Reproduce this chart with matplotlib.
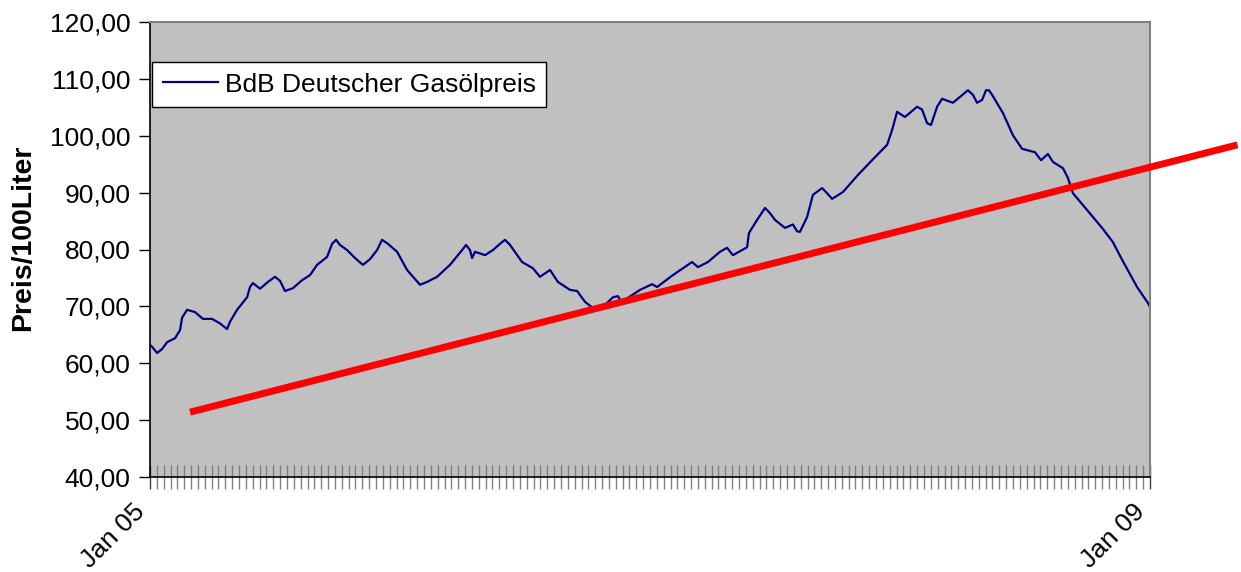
import matplotlib.pyplot as plt
import matplotlib.transforms as mtransforms
import numpy as np
from matplotlib.ticker import FuncFormatter

# months since Jan 05
months = [0.00, 0.10, 0.34, 0.58, 0.82, 1.20, 1.44, 1.54, 1.78, 2.16, 2.54, 2.98,
          3.36, 3.70, 3.84, 4.18, 4.66, 4.80, 4.94, 5.28, 5.66, 6.00, 6.24, 6.48,
          6.86, 7.30, 7.68, 8.02, 8.50, 8.74, 8.93, 9.12, 9.46, 9.84, 10.22, 10.56,
          10.90, 11.14, 11.42, 11.86, 12.34, 12.96, 13.30, 13.78, 14.40, 14.98, 15.17,
          15.36, 15.46, 15.60, 16.08, 16.46, 16.80, 17.04, 17.28, 17.86, 18.38, 18.72,
          19.20, 19.58, 20.16, 20.50, 20.88, 21.26, 21.74, 22.22, 22.46, 22.61, 22.94,
          23.52, 24.10, 24.34, 25.10, 26.02, 26.30, 26.78, 27.36, 27.70, 27.98, 28.66,
          28.75, 29.14, 29.52, 29.76, 30.00, 30.48, 30.86, 31.06, 31.20, 31.54, 31.82,
          32.26, 32.50, 32.74, 33.26, 33.98, 34.66, 35.38, 35.62, 35.86, 36.24, 36.82,
          37.06, 37.30, 37.49, 37.78, 38.02, 38.54, 39.26, 39.50, 39.70, 39.94, 40.13,
          40.27, 40.42, 40.94, 41.42, 41.86, 42.48, 42.77, 43.10, 43.34, 43.82, 44.06,
          44.30, 45.26, 45.70, 46.22, 46.66, 47.38, 47.90, 48.00]
preis = [63.2, 62.9, 61.8, 62.5, 63.7, 64.4, 65.8, 68.0, 69.4, 69.0, 67.8, 67.8,
         67.0, 66.0, 67.3, 69.4, 71.6, 73.4, 74.1, 73.1, 74.3, 75.2, 74.5, 72.7,
         73.2, 74.6, 75.5, 77.3, 78.7, 81.0, 81.7, 80.8, 79.9, 78.5, 77.3, 78.3,
         79.9, 81.7, 81.0, 79.6, 76.4, 73.8, 74.3, 75.2, 77.3, 79.9, 80.8,
         79.9, 78.5, 79.6, 79.0, 79.9, 81.0, 81.7, 80.8, 77.8, 76.7, 75.2,
         76.4, 74.3, 72.9, 72.7, 70.8, 69.7, 69.9, 71.6, 71.8, 70.9, 71.5,
         72.9, 73.9, 73.4, 75.5, 77.8, 76.9, 77.8, 79.6, 80.3, 79.0, 80.4,
         82.9, 85.2, 87.3, 86.4, 85.2, 83.8, 84.4, 83.2, 83.1, 85.7, 89.6,
         90.8, 89.9, 88.9, 90.1, 93.1, 95.7, 98.4, 101.0, 104.2, 103.3, 105.1,
         104.6, 102.2, 101.9, 105.1, 106.5, 105.8, 108.0, 107.2, 105.8, 106.3, 108.0,
         108.0, 107.2, 104.0, 100.1, 97.7, 97.1, 95.7, 96.8, 95.4, 94.3, 92.6,
         89.9, 85.7, 83.8, 81.3, 78.2, 73.4, 70.6, 69.9]

# trend line (drawn by hand in the original)
trend_x = [1.92, 52.2]
trend_y = [51.4, 98.4]

xtick_pos = [0, 48]
xtick_labels = ['Jan 05', 'Jan 09']


def main():
    plt.rcParams['font.family'] = ['Liberation Sans', 'DejaVu Sans']

    fig = plt.figure(figsize=(12.41, 5.72), dpi=100)
    ax = fig.add_axes([150 / 1241, 1 - 477 / 572, 1000 / 1241, 455 / 572])
    ax.set_facecolor('#C0C0C0')

    ax.plot(months, preis, color='#000080', linewidth=1.6,
            label='BdB Deutscher Gasölpreis')
    ax.plot(trend_x, trend_y, color='#FF0000', linewidth=5,
            solid_capstyle='butt', clip_on=False, zorder=5)

    # x axis
    ax.set_xlim(0, 48)
    ax.set_xticks(xtick_pos)
    ax.set_xticklabels(xtick_labels, fontsize=19, rotation=45,
                       ha='right', va='bottom', rotation_mode='anchor')
    shift = mtransforms.ScaledTranslation(-5 / 100, 0, fig.dpi_scale_trans)
    for lbl in ax.get_xticklabels():
        lbl.set_transform(lbl.get_transform() + shift)
    ax.set_xticks(np.linspace(0, 48, 147), minor=True)
    ax.tick_params(axis='x', which='major', direction='inout', length=17,
                   width=1, color='#404040', pad=20)
    ax.tick_params(axis='x', which='minor', direction='inout', length=17,
                   width=1, color='#808080')

    # y axis
    ax.set_ylim(40, 120)
    ax.set_yticks(np.arange(40, 121, 10))
    ax.yaxis.set_major_formatter(FuncFormatter(lambda v, p: ('%.2f' % v).replace('.', ',')))
    ax.tick_params(axis='y', direction='out', length=8, width=1,
                   labelsize=19, pad=6)
    ax.set_ylabel('Preis/100Liter', fontsize=20.5, fontweight='bold')
    ax.yaxis.set_label_coords(-0.114, 0.525)

    for side in ['left', 'bottom']:
        ax.spines[side].set_color('black')
        ax.spines[side].set_linewidth(1.2)
    for side in ['right', 'top']:
        ax.spines[side].set_color('#808080')
        ax.spines[side].set_linewidth(1.5)

    leg = ax.legend(loc='upper left', bbox_to_anchor=(0.002, 0.912), fontsize=19,
                    frameon=True, fancybox=False, handlelength=2.1,
                    handletextpad=0.25, borderpad=0.4, borderaxespad=0.0)
    leg.get_frame().set_edgecolor('black')
    leg.get_frame().set_facecolor('white')
    leg.get_frame().set_alpha(1)
    leg.get_frame().set_linewidth(1)

    plt.savefig('out.png', dpi=100)


if __name__ == '__main__':
    main()
